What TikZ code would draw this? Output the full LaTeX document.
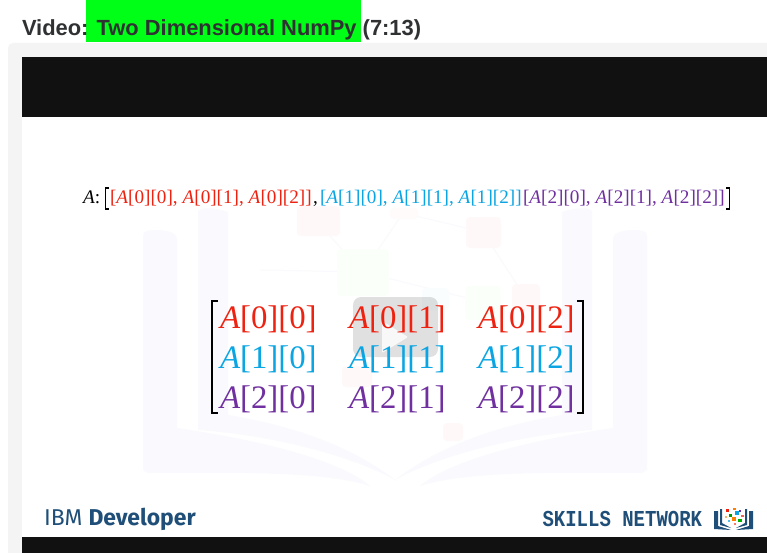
\documentclass[tikz,border=0pt]{standalone}
\usepackage{fontspec}
\usepackage{graphicx}
\setmainfont{Liberation Serif}
\newfontfamily\titlefont{Liberation Sans}
\newfontfamily\ibmfont{Fira Sans}
\newfontfamily\skillfont{Liberation Mono}
\definecolor{panelgray}{HTML}{F4F4F4}
\definecolor{nearblack}{HTML}{111111}
\definecolor{hlgreen}{HTML}{00FF17}
\definecolor{titlegray}{HTML}{2F3133}
\definecolor{elred}{HTML}{EE2211}
\definecolor{elblue}{HTML}{0AA5E2}
\definecolor{elpurple}{HTML}{7030A0}
\definecolor{brand}{HTML}{1F4F78}
\definecolor{wmbook}{HTML}{FAFAFE}
\tikzset{
  x=1pt,y=-1pt,
  txt/.style={inner sep=0pt,outer sep=0pt,anchor=base west},
  cell/.style={txt,font=\fontsize{32.8}{34}\selectfont},
  rowtxt/.style={txt,font=\fontsize{19.2}{21}\selectfont},
  brk/.style={line width=2pt,black,line cap=butt,line join=miter},
  wm/.style={fill=wmbook,draw=none},
  blob/.style={rounded corners=4pt,draw=none},
  sq/.style={draw=none},
}
\newcommand{\elm}[2]{\textit{A}[#1][#2]}
\begin{document}
\begin{tikzpicture}
\useasboundingbox (0,0) rectangle (767,553);
\fill[white] (0,0) rectangle (767,553);
% panel and video
\fill[panelgray,rounded corners=5pt] (8,43) rectangle (790,580);
\fill[white] (22,117) rectangle (767,537);
\fill[nearblack] (22,57) rectangle (767,117);
\fill[nearblack] (22,537) rectangle (767,553);
% title
\fill[hlgreen] (86,0) rectangle (361,42);
\node[txt,text=titlegray,font=\titlefont\bfseries\fontsize{21.9}{24}\selectfont] (title) at (22,36) {Video: Two Dimensional NumPy (7:13)};
% watermark book
\path[wm] (143,236) .. controls (143,231) and (148,230) .. (155,230) .. controls (170,230) and (177,233) .. (177,240) -- (177,428) .. controls (260,440) and (340,460) .. (370,486) .. controls (320,470) and (220,473) .. (148,473) -- (143,470) -- cycle;
\path[wm] (198,212) .. controls (198,207) and (215,207) .. (228,212) -- (228,415) .. controls (290,425) and (350,445) .. (395,480) .. controls (350,455) and (270,435) .. (198,430) -- cycle;
\path[wm] (647,236) .. controls (647,231) and (642,230) .. (635,230) .. controls (620,230) and (613,233) .. (613,240) -- (613,428) .. controls (530,440) and (450,460) .. (420,486) .. controls (470,470) and (570,473) .. (642,473) -- (647,470) -- cycle;
\path[wm] (592,212) .. controls (592,207) and (575,207) .. (562,212) -- (562,415) .. controls (500,425) and (440,445) .. (395,480) .. controls (440,455) and (520,435) .. (592,430) -- cycle;
% watermark network
\draw[wmbook,line width=1pt] (317,222) -- (363,272) -- (260,270) (363,272) -- (483,302) (403,213) -- (483,232) -- (525,297) (403,213) -- (363,272);
\fill[blob,fill=elred!3] (297,206) rectangle (340,236);
\fill[blob,fill=elred!3] (466,217) rectangle (501,248);
\fill[blob,fill=elred!2] (390,208) rectangle (418,219);
\fill[blob,fill=green!2!white] (337,249) rectangle (389,296);
\fill[blob,fill=green!2!white] (465,286) rectangle (501,320);
\fill[blob,fill=elred!3] (512,284) rectangle (540,310);
\fill[blob,fill=elblue!2] (422,288) rectangle (449,310);
\fill[blob,fill=elred!3] (342,366) rectangle (372,387);
\fill[blob,fill=elred!3] (443,423) rectangle (463,441);
% play button
\fill[rounded corners=8pt,fill=black,fill opacity=0.12] (353,297) rectangle (438,357);
\fill[white,opacity=0.8,rounded corners=1pt] (382,321) -- (408,337) -- (382,353) -- cycle;
% top row
\node[rowtxt] (rowA) at (83,204) {\textit{A}:};
\node[rowtxt,text=elred] (row0) at (110,204) {[\elm00, \elm01, \elm02]};
\node[rowtxt] (rowc) at (313,204) {,};
\node[rowtxt,text=elblue] (row1) at (320,204) {[\elm10, \elm11, \elm12]};
\node[rowtxt,text=elpurple] (row2) at (523,204) {[\elm20, \elm21, \elm22]};
\draw[line width=1.3pt] (109,188) -- (105.5,188) -- (105.5,209) -- (109,209);
\draw[line width=1.3pt] (726,188) -- (729.5,188) -- (729.5,209) -- (726,209);
% matrix
\foreach \r/\c/\y in {0/elred/328,1/elblue/368,2/elpurple/408}{
  \foreach \k/\x in {0/220,1/349,2/478}{
    \node[cell,text=\c] (m\r\k) at (\x,\y) {\elm{\r}{\k}};
  }
}
\draw[brk] (218,301) -- (212,301) -- (212,413) -- (218,413);
\draw[brk] (577,301) -- (583,301) -- (583,413) -- (577,413);
% footer
\node[txt,text=brand,font=\ibmfont\fontsize{22.9}{25}\selectfont] (ibm) at (44,525) {IBM \textbf{Developer}};
\node[txt,text=brand,font=\skillfont\bfseries\fontsize{19}{21}\selectfont] (skills) at (542.5,526.5) {\scalebox{1}[1.2]{SKILLS NETWORK}};
% logo
\fill[brand] (714,511) -- (718,511) -- (718,526) -- (731,530) -- (714,529) -- cycle;
\fill[brand] (720,509) -- (722,509) -- (722,523) -- (731,528) -- (720,525) -- cycle;
\fill[brand] (753,511) -- (749,511) -- (749,526) -- (736,530) -- (753,529) -- cycle;
\fill[brand] (747,509) -- (745,509) -- (745,523) -- (736,528) -- (747,525) -- cycle;
\fill[sq,fill=elred] (726,509) rectangle (729,512);
\fill[sq,fill=orange] (733,508) rectangle (736,510);
\fill[sq,fill=elblue] (735,511) rectangle (739,515);
\fill[sq,fill=elpurple] (739,510) rectangle (741,512);
\fill[sq,fill=green!60!black] (729,514) rectangle (732,517);
\fill[sq,fill=orange] (732,517) rectangle (736,521);
\fill[sq,fill=elred!70] (741,515) rectangle (744,517);
\fill[sq,fill=green!70!black] (738,519) rectangle (742,522);
\fill[sq,fill=orange!60] (725,516) rectangle (727,518);
\fill[sq,fill=elred!60] (734,523) rectangle (736,525);
\fill[sq,fill=elblue!70] (728,520) rectangle (730,522);
\end{tikzpicture}
\end{document}
